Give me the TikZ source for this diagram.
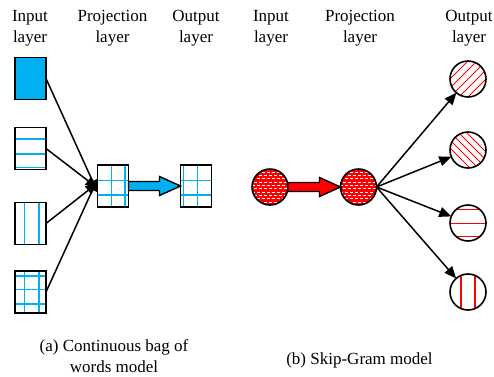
\documentclass[tikz,border=0pt]{standalone}
\usepackage{fontspec}
\setmainfont{Liberation Serif}
\usetikzlibrary{arrows.meta,calc}
\definecolor{mycyan}{HTML}{00B0F0}
\definecolor{myred}{HTML}{FF0000}
\newcommand\myhline[1]{\draw[cyanline] ($(path picture bounding box.north west)!#1!(path picture bounding box.south west)$) -- ($(path picture bounding box.north east)!#1!(path picture bounding box.south east)$);}
\newcommand\myvline[1]{\draw[cyanline] ($(path picture bounding box.north west)!#1!(path picture bounding box.north east)$) -- ($(path picture bounding box.south west)!#1!(path picture bounding box.south east)$);}
\begin{document}
\begin{tikzpicture}[x=1pt,y=-1pt,
  cyanline/.style={draw=mycyan,line width=1.5pt},
  redline/.style={draw=myred,line width=0.9pt},
  vec/.style={draw,line width=1.6pt,minimum width=31pt,minimum height=42pt,inner sep=0pt,outer sep=0pt},
  ball/.style={circle,draw,line width=1.6pt,minimum size=36pt,inner sep=0pt,outer sep=0pt},
  lab/.style={font=\fontsize{17}{21}\selectfont,align=center,inner sep=0pt},
  conn/.style={line width=1.5pt,-{Triangle[length=12pt,width=10pt]}},
  block/.style={line width=1.4pt,draw=black}]
\useasboundingbox (0,0) rectangle (494,376);
% labels
\node[lab] (t1) at (30,28) {Input\\layer};
\node[lab] (t2) at (112.5,28) {Projection\\layer};
\node[lab] (t3) at (196,28) {Output\\layer};
\node[lab] (t4) at (271,28) {Input\\layer};
\node[lab] (t5) at (360,28) {Projection\\layer};
\node[lab] (t6) at (469,28) {Output\\layer};
% CBOW
\node[vec,fill=mycyan] (i1) at (30.5,78.5) {};
\node[vec,path picture={\myhline{0.27}\myhline{0.63}\myhline{0.95}}] (i2) at (30.5,148.5) {};
\node[vec,path picture={\myvline{0.30}\myvline{0.78}}] (i3) at (30.5,223.5) {};
\node[vec,path picture={\myvline{0.30}\myvline{0.78}\myhline{0.12}\myhline{0.44}\myhline{0.79}}] (i4) at (30.5,292) {};
\node[vec,path picture={\myvline{0.45}\myvline{0.88}\myhline{0.37}\myhline{0.71}}] (p) at (113,186) {};
\node[vec,path picture={\myvline{0.1}\myvline{0.55}\myhline{0.37}\myhline{0.71}}] (o) at (196,186) {};
\draw[conn] (i1.east) -- ([yshift=-6pt]p.west);
\draw[conn] (i2.east) -- ([yshift=-2pt]p.west);
\draw[conn] (i3.east) -- ([yshift=3pt]p.west);
\draw[conn] (i4.east) -- ([yshift=7pt]p.west);
\draw[block,fill=mycyan] ($(p.east)+(0,-4.5)$) -- ($(o.west)+(-21,-4.5)$) -- ($(o.west)+(-21,-9.5)$) -- (o.west) -- ($(o.west)+(-21,9.5)$) -- ($(o.west)+(-21,4.5)$) -- ($(p.east)+(0,4.5)$) -- cycle;
% Skip-gram
\tikzset{dots/.style={fill=myred,path picture={
  \foreach \rr in {0,...,11} \foreach \cc in {0,...,8}
    \draw[white,line width=1pt] ($(path picture bounding box.center)+({\cc*5-21+mod(\rr,2)*2.5},{\rr*3.3-18})$) -- ++(3,0);}}}
\node[ball,dots] (si) at (270,187) {};
\node[ball,dots] (sp) at (358.5,187) {};
\node[ball,path picture={\foreach \k in {-2,...,2} \draw[redline] ($(path picture bounding box.center)+({\k*9-20},20)$) -- ++(40,-40);}] (s1) at (468,79) {};
\node[ball,path picture={\foreach \k in {-2,...,2} \draw[redline] ($(path picture bounding box.center)+({\k*8-20},-20)$) -- ++(40,40);}] (s2) at (468,150) {};
\node[ball,path picture={\foreach \k in {-14,0,13} \draw[redline] ($(path picture bounding box.center)+(-20,\k)$) -- ++(40,0);}] (s3) at (468,223) {};
\node[ball,path picture={\foreach \k in {-7,7} \draw[redline,line width=1.3pt] ($(path picture bounding box.center)+(\k,-20)$) -- ++(0,40);}] (s4) at (468,292) {};
\draw[block,fill=myred] ($(si.east)+(0,-4.5)$) -- ($(sp.west)+(-21,-4.5)$) -- ($(sp.west)+(-21,-9.5)$) -- (sp.west) -- ($(sp.west)+(-21,9.5)$) -- ($(sp.west)+(-21,4.5)$) -- ($(si.east)+(0,4.5)$) -- cycle;
\draw[conn] (sp.east) -- (s1);
\draw[conn] (sp.east) -- (s2);
\draw[conn] (sp.east) -- (s3);
\draw[conn] (sp.east) -- (s4);
% captions
\node[lab] (c1) at (114,356) {(a) Continuous bag of\\words model};
\node[lab] (c2) at (359.5,360) {(b) Skip-Gram model};
\end{tikzpicture}
\end{document}
